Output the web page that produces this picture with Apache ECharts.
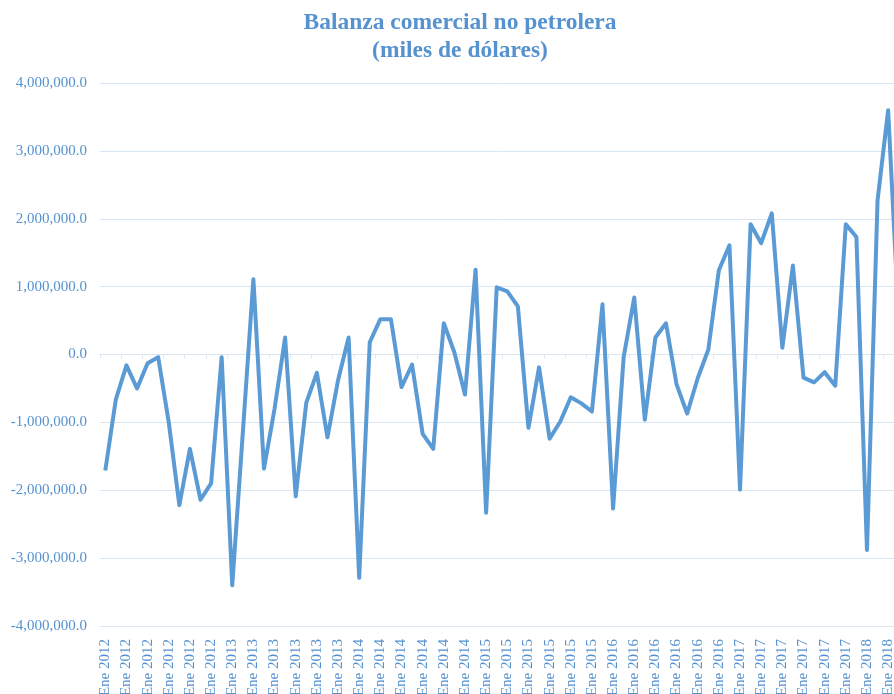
<!DOCTYPE html>
<html>
<head>
<meta charset="utf-8">
<script src="https://cdn.jsdelivr.net/npm/echarts@6/dist/echarts.min.js"></script>
<style>
html,body{margin:0;padding:0;background:#fff;}
#chart{width:894px;height:694px;}
</style>
</head>
<body>
<div id="chart"></div>
<script>
// Category labels as printed on the reference axis (one per month, Ene 2012 .. Abr 2018)
var categories = [
  "Ene 2012","Ene 2012","Ene 2012","Ene 2012","Ene 2012","Ene 2012","Ene 2012","Ene 2012","Ene 2012","Ene 2012","Ene 2012","Ene 2012",
  "Ene 2013","Ene 2013","Ene 2013","Ene 2013","Ene 2013","Ene 2013","Ene 2013","Ene 2013","Ene 2013","Ene 2013","Ene 2013","Ene 2013",
  "Ene 2014","Ene 2014","Ene 2014","Ene 2014","Ene 2014","Ene 2014","Ene 2014","Ene 2014","Ene 2014","Ene 2014","Ene 2014","Ene 2014",
  "Ene 2015","Ene 2015","Ene 2015","Ene 2015","Ene 2015","Ene 2015","Ene 2015","Ene 2015","Ene 2015","Ene 2015","Ene 2015","Ene 2015",
  "Ene 2016","Ene 2016","Ene 2016","Ene 2016","Ene 2016","Ene 2016","Ene 2016","Ene 2016","Ene 2016","Ene 2016","Ene 2016","Ene 2016",
  "Ene 2017","Ene 2017","Ene 2017","Ene 2017","Ene 2017","Ene 2017","Ene 2017","Ene 2017","Ene 2017","Ene 2017","Ene 2017","Ene 2017",
  "Ene 2018","Ene 2018","Ene 2018","Ene 2018"
];

// Balanza comercial no petrolera (miles de dólares)
var balanza = [
  -1710000, -660000, -160000, -500000, -130000, -40000, -1000000, -2220000, -1390000, -2140000, -1900000, -40000,
  -3400000, -1150000, 1110000, -1680000, -800000, 250000, -2090000, -710000, -270000, -1220000, -380000, 250000,
  -3290000, 180000, 520000, 520000, -480000, -150000, -1170000, -1390000, 460000, 30000, -590000, 1250000,
  -2330000, 990000, 930000, 710000, -1080000, -190000, -1240000, -990000, -630000, -720000, -840000, 740000,
  -2270000, -40000, 840000, -960000, 250000, 460000, -440000, -870000, -350000, 70000, 1240000, 1610000,
  -1990000, 1920000, 1640000, 2080000, 100000, 1310000, -340000, -410000, -260000, -460000, 1920000, 1730000,
  -2880000, 2270000, 3600000, 500000
];

var titleLines = ["Balanza comercial no petrolera", "(miles de dólares)"];

var blue = "#5b9bd5";
var textBlue = "#5592cf";
var gridColor = "#d9e6f3";

var chart = echarts.init(document.getElementById('chart'), null, {renderer: 'canvas'});

function fmt(v) {
  var s = Math.abs(v).toFixed(1);
  var parts = s.split('.');
  parts[0] = parts[0].replace(/\B(?=(\d{3})+(?!\d))/g, ',');
  return (v < 0 ? '-' : '') + parts.join('.');
}

chart.setOption({
  animation: false,
  backgroundColor: '#ffffff',
  title: {
    text: titleLines.join('\n'),
    left: 455,
    top: 4,
    textAlign: 'center',
    textStyle: {
      fontFamily: 'Liberation Serif',
      fontWeight: 'bold',
      fontSize: 23.5,
      lineHeight: 28,
      color: textBlue
    }
  },
  grid: {
    left: 100,
    width: 804,
    top: 83,
    bottom: 68,
    containLabel: false,
    outerBoundsMode: 'none'
  },
  xAxis: [
    {
      type: 'category',
      data: categories,
      boundaryGap: true,
      position: 'bottom',
      axisLine: {show: false, onZero: false},
      axisTick: {show: false},
      axisLabel: {
        interval: 1,
        rotate: 90,
        margin: 13,
        fontFamily: 'Liberation Serif',
        fontSize: 15,
        color: textBlue
      },
      splitLine: {show: false}
    },
    {
      type: 'category',
      data: categories,
      boundaryGap: true,
      position: 'bottom',
      axisLine: {show: true, onZero: true, lineStyle: {color: gridColor, width: 1}},
      axisTick: {show: true, interval: 1, length: 4, inside: false, lineStyle: {color: gridColor}},
      axisLabel: {show: false},
      splitLine: {show: false}
    }
  ],
  yAxis: {
    type: 'value',
    min: -4000000,
    max: 4000000,
    interval: 1000000,
    axisLine: {show: false},
    axisTick: {show: false},
    axisLabel: {
      formatter: fmt,
      margin: 13,
      fontFamily: 'Liberation Serif',
      fontSize: 15,
      color: textBlue
    },
    splitLine: {show: true, lineStyle: {color: gridColor, width: 1}}
  },
  series: [
    {
      type: 'line',
      data: balanza,
      xAxisIndex: 0,
      showSymbol: false,
      symbol: 'none',
      smooth: false,
      lineStyle: {color: blue, width: 4, join: 'round'},
      itemStyle: {color: blue}
    }
  ]
});
</script>
</body>
</html>
